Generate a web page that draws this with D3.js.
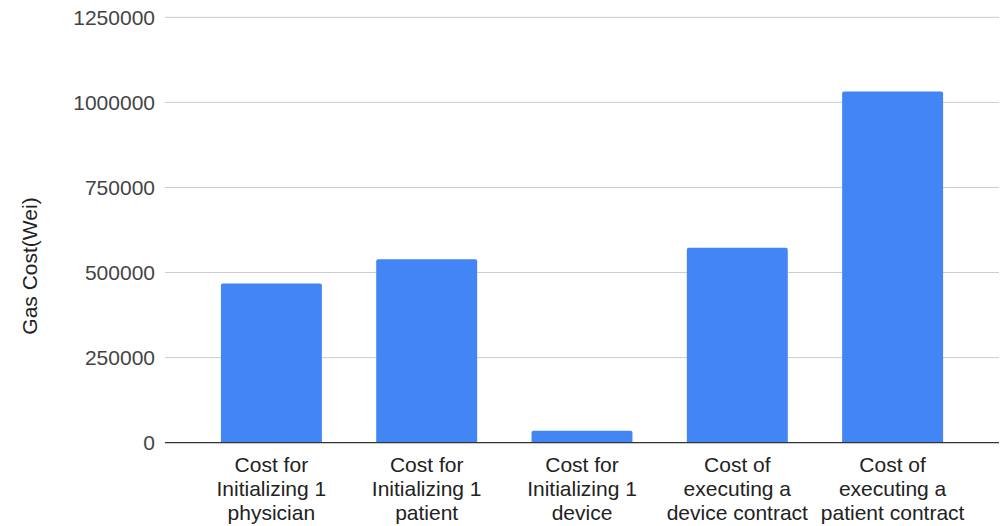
<!DOCTYPE html>
<html>
<head>
<meta charset="utf-8">
<script src="https://cdn.jsdelivr.net/npm/d3@7"></script>
<style>
  html, body { margin: 0; padding: 0; background: #fff; }
  svg { display: block; font-family: "Liberation Sans", Arial, sans-serif; }
</style>
</head>
<body>
<svg id="chart" width="1004" height="526"></svg>
<script>
const categories = [
  ["Cost for", "Initializing 1", "physician"],
  ["Cost for", "Initializing 1", "patient"],
  ["Cost for", "Initializing 1", "device"],
  ["Cost of", "executing a", "device contract"],
  ["Cost of", "executing a", "patient contract"]
];
const values = [468000, 539000, 35000, 573000, 1032000];
const yTicks = [0, 250000, 500000, 750000, 1000000, 1250000];
const yTitle = "Gas Cost(Wei)";

(function () {
const svg = d3.select("#chart");
const mLeft = 165, mRight = 999, mTop = 17.3, mBottom = 442.7;

const x = d3.scaleBand()
  .domain(d3.range(categories.length))
  .range([mLeft, mRight])
  .paddingInner(0.35)
  .paddingOuter(0.36);

const y = d3.scaleLinear().domain([0, 1250000]).range([mBottom, mTop]);

// gridlines
svg.append("g").selectAll("line")
  .data(yTicks.filter(d => d !== 0))
  .join("line")
  .attr("x1", mLeft).attr("x2", mRight)
  .attr("y1", d => y(d)).attr("y2", d => y(d))
  .attr("stroke", "#cccccc").attr("stroke-width", 1);

// y tick labels
const yAxis = d3.axisLeft(y).tickValues(yTicks).tickSize(0).tickPadding(10).tickFormat(d3.format("d"));
const gy = svg.append("g").attr("transform", `translate(${mLeft},0)`).call(yAxis);
gy.select(".domain").remove();
gy.selectAll("text")
  .attr("fill", "#444").attr("font-size", 21)
  .attr("font-family", '"Liberation Sans", Arial, sans-serif');

// bars with slightly rounded top
const r = 2;
svg.append("g").selectAll("path")
  .data(values)
  .join("path")
  .attr("fill", "#4285f4")
  .attr("d", (d, i) => {
    const x0 = x(i), w = x.bandwidth(), y0 = y(d), yb = y(0);
    return `M${x0},${yb}V${y0 + r}Q${x0},${y0} ${x0 + r},${y0}H${x0 + w - r}Q${x0 + w},${y0} ${x0 + w},${y0 + r}V${yb}Z`;
  });

// baseline
svg.append("line")
  .attr("x1", mLeft).attr("x2", mRight)
  .attr("y1", y(0)).attr("y2", y(0))
  .attr("stroke", "#333").attr("stroke-width", 1.3);

// x labels
const xl = svg.append("g").selectAll("text")
  .data(categories)
  .join("text")
  .attr("text-anchor", "middle")
  .attr("font-size", 21)
  .attr("fill", "#222");
xl.selectAll("tspan")
  .data((d, i) => d.map(t => ({ t, i })))
  .join("tspan")
  .attr("x", d => x(d.i) + x.bandwidth() / 2)
  .attr("y", (d, j) => 472 + j * 24)
  .text(d => d.t);

// y title
svg.append("text")
  .attr("transform", `translate(37,${(mTop + mBottom) / 2 + 36}) rotate(-90)`)
  .attr("text-anchor", "middle")
  .attr("font-size", 21)
  .attr("fill", "#222")
  .text(yTitle);
})();
</script>
</body>
</html>
